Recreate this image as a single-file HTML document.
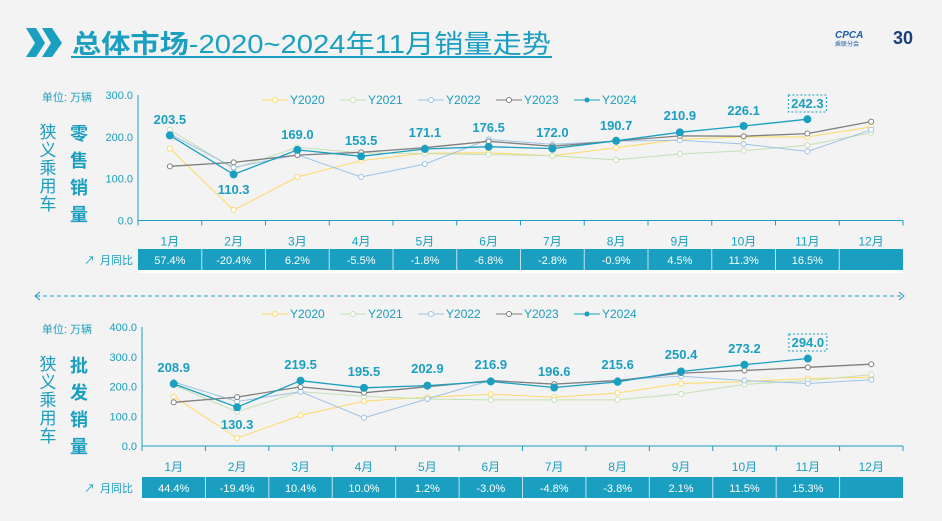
<!DOCTYPE html>
<html><head><meta charset="utf-8"><style>
body{margin:0;width:942px;height:516px;overflow:hidden;background:#f3f3f3;font-family:"Liberation Sans","Noto Sans CJK SC",sans-serif}
</style></head><body>
<svg id="s" width="942" height="516" xmlns="http://www.w3.org/2000/svg" font-family="Liberation Sans, Noto Sans CJK SC, sans-serif">
<rect width="942" height="516" fill="#f3f3f3"/>
<polygon points="26,28 36,28 45,43 36,57 26,57 35,43" fill="#1a9fc0"/>
<polygon points="42,28 52,28 62,43 52,57 42,57 51,43" fill="#1a9fc0"/>
<text x="72" y="53" font-size="26" fill="#1a9fc0" font-weight="bold" textLength="479" lengthAdjust="spacingAndGlyphs">总体市场<tspan font-weight="normal">-2020~2024年11月销量走势</tspan></text>
<rect x="71" y="56" width="481" height="2" fill="#1a9fc0"/>
<text x="835" y="38" font-size="10" fill="#1a5fa8" font-weight="bold" font-style="italic">CPCA</text>
<text x="835" y="46" font-size="6" fill="#1a5fa8">乘联分会</text>
<text x="893" y="44" font-size="18" fill="#1a3f7a" font-weight="bold">30</text>
<line x1="36" y1="296" x2="903" y2="296" stroke="#1a9fc0" stroke-dasharray="4,3"/>
<polyline points="40,292 35,296 40,300" fill="none" stroke="#1a9fc0"/>
<polyline points="899,292 904,296 899,300" fill="none" stroke="#1a9fc0"/>
<g id="g"></g>
</svg>
<script>
var g=document.getElementById('g'),h='';
var cols=['#ffd966','#c5e0b4','#9dc3e6','#7f7f7f','#1a9fc0'];
function chart(o){
 var x0=o.x0,x1=903,w=(x1-x0)/12,y0=o.y0,k=o.k;
 h+='<text x="92" y="'+(o.top+6)+'" font-size="11" fill="#1a9fc0" text-anchor="end">单位: 万辆</text>';
 o.ticks.forEach(function(t){var y=y0-t*k;h+='<text x="'+(x0-5)+'" y="'+(y+4)+'" font-size="11" fill="#1a9fc0" text-anchor="end">'+t.toFixed(1)+'</text>';});
 h+='<line x1="'+x0+'" y1="'+(o.top)+'" x2="'+x0+'" y2="'+y0+'" stroke="#1a9fc0"/>';
 h+='<line x1="'+x0+'" y1="'+y0+'" x2="'+x1+'" y2="'+y0+'" stroke="#1a9fc0"/>';
 for(var i=0;i<=12;i++){var x=x0+i*w;h+='<line x1="'+x+'" y1="'+y0+'" x2="'+x+'" y2="'+(y0+5)+'" stroke="#1a9fc0"/>';}
 for(var i=0;i<12;i++){h+='<text x="'+(x0+w/2+i*w)+'" y="'+(y0+25)+'" font-size="12" fill="#1a9fc0" text-anchor="middle">'+(i+1)+'月</text>';}
 '狭义乘用车'.split('').forEach(function(c,i){h+='<text x="48" y="'+(o.top+43+i*18)+'" font-size="17" fill="#1a9fc0" text-anchor="middle">'+c+'</text>';});
 o.big.split('').forEach(function(c,i){h+='<text x="79" y="'+(o.top+45+i*27)+'" font-size="18" font-weight="bold" fill="#1a9fc0" text-anchor="middle">'+c+'</text>';});
 var ly=o.ly,lx=[262,340,418,496,574];
 ['Y2020','Y2021','Y2022','Y2023','Y2024'].forEach(function(n,i){
  h+='<line x1="'+lx[i]+'" y1="'+ly+'" x2="'+(lx[i]+26)+'" y2="'+ly+'" stroke="'+cols[i]+'"/>';
  h+=i==4?'<circle cx="'+(lx[i]+13)+'" cy="'+ly+'" r="2.5" fill="'+cols[i]+'"/>':'<circle cx="'+(lx[i]+13)+'" cy="'+ly+'" r="2.5" fill="#fff" stroke="'+cols[i]+'"/>';
  h+='<text x="'+(lx[i]+28)+'" y="'+(ly+4)+'" font-size="12" fill="#1a9fc0">'+n+'</text>';});
 o.data.forEach(function(d,s){
  var p=d.map(function(v,i){return (x0+w/2+i*w).toFixed(1)+','+(y0-v*k).toFixed(1)}).join(' ');
  h+='<polyline points="'+p+'" fill="none" stroke="'+cols[s]+'" stroke-width="'+(s>=3?1.3:1)+'"/>';
  d.forEach(function(v,i){var x=x0+w/2+i*w,y=y0-v*k;
   h+=s==4?'<circle cx="'+x+'" cy="'+y+'" r="4" fill="'+cols[s]+'"/>':'<circle cx="'+x+'" cy="'+y+'" r="2.5" fill="#fff" stroke="'+cols[s]+'"/>';});
 });
 o.data[4].forEach(function(v,i){var x=x0+w/2+i*w,y=o.lab[i];
  h+='<text x="'+x+'" y="'+y+'" font-size="13" font-weight="bold" fill="#1a9fc0" text-anchor="middle">'+v.toFixed(1)+'</text>';
  if(i==10)h+='<rect x="'+(x-19)+'" y="'+(y-13)+'" width="38" height="17" fill="none" stroke="#1a9fc0" stroke-dasharray="2,2"/>';});
 var ty=o.ty;
 h+='<text x="84" y="'+(ty+15)+'" font-size="11" fill="#1a9fc0">↗</text><text x="100" y="'+(ty+15)+'" font-size="11" fill="#1a9fc0">月同比</text>';
 h+='<rect x="'+x0+'" y="'+ty+'" width="'+(x1-x0)+'" height="21" fill="#1a9fc0"/>';
 h+='<rect x="'+x0+'" y="'+(ty+21)+'" width="'+(x1-x0)+'" height="3" fill="#fff"/>';
 for(var i=1;i<12;i++)h+='<line x1="'+(x0+i*w)+'" y1="'+ty+'" x2="'+(x0+i*w)+'" y2="'+(ty+21)+'" stroke="#bfe3ee" stroke-width="1"/>';
 o.yoy.forEach(function(t,i){h+='<text x="'+(x0+w/2+i*w)+'" y="'+(ty+15)+'" font-size="11" fill="#fff" text-anchor="middle">'+t+'</text>';});
}
chart({x0:138,y0:220.5,k:0.418,top:95,ticks:[0,100,200,300],big:'零售销量',ly:100,ty:249,
 data:[[172,25,104,143,161,162,155,174,194,200,200,224],[217,124,175,162,160,158,155,145,159,167,180,210],[207,127,157,104,135,194,182,190,192,183,165,217],[129.6,139.1,156.4,163.1,174.2,189.4,177.5,190.3,202.4,201.7,208,236.6],[203.5,110.3,169.0,153.5,171.1,176.5,172.0,190.7,210.9,226.1,242.3]],
 lab:[124,194,139,145,137,132,137,130,120,115,108],
 yoy:['57.4%','-20.4%','6.2%','-5.5%','-1.8%','-6.8%','-2.8%','-0.9%','4.5%','11.3%','16.5%','']});
chart({x0:142,y0:446,k:0.2975,top:327,ticks:[0,100,200,300,400],big:'批发销量',ly:314,ty:477,
 data:[[166,27,103,151,164,174,164,178,210,216,227,231],[205,115,183,167,158,155,155,155,175,207,220,240],[215,149.5,182.5,94.9,158.2,221,208,222,235,220,210,222.8],[147,164.3,198.5,178.9,199.4,219.5,207.9,219.7,245,253.7,264.4,275],[208.9,130.3,219.5,195.5,202.9,216.9,196.6,215.6,250.4,273.2,294.0]],
 lab:[372,429,369,376,373,369,376,369,359,353,347],
 yoy:['44.4%','-19.4%','10.4%','10.0%','1.2%','-3.0%','-4.8%','-3.8%','2.1%','11.5%','15.3%','']});
g.innerHTML=h;
</script>
</body></html>
